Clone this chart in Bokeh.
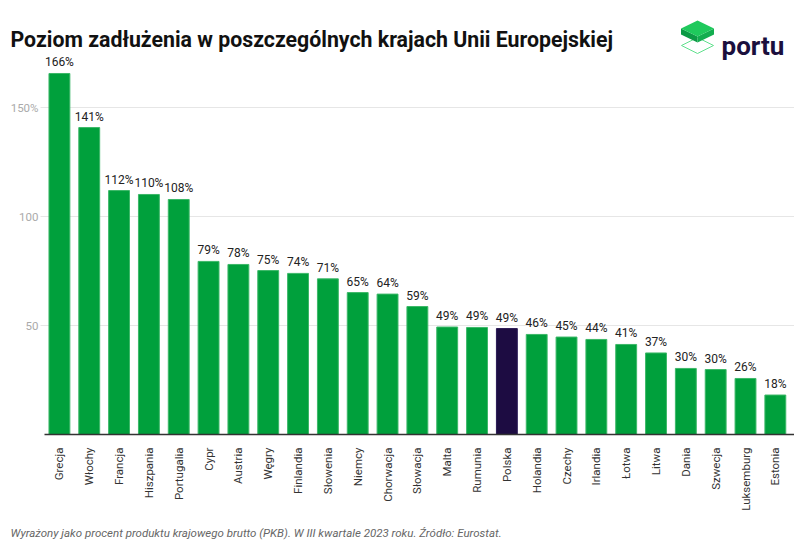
from bokeh.plotting import figure
from bokeh.models import Range1d, FixedTicker, ColumnDataSource, LabelSet, Title
from bokeh.embed import file_html
from bokeh.resources import INLINE
from bokeh.core.properties import value
import math

countries = ["Grecja", "Włochy", "Francja", "Hiszpania", "Portugalia", "Cypr", "Austria",
             "Węgry", "Finlandia", "Słowenia", "Niemcy", "Chorwacja", "Słowacja", "Malta",
             "Rumunia", "Polska", "Holandia", "Czechy", "Irlandia", "Łotwa", "Litwa",
             "Dania", "Szwecja", "Luksemburg", "Estonia"]
debt = [165.6, 140.8, 111.9, 110.1, 107.8, 79.4, 78.0, 75.2, 73.9, 71.4, 65.1, 64.4, 58.7,
        49.3, 49.1, 48.6, 45.9, 44.7, 43.6, 41.3, 37.4, 30.3, 29.8, 25.7, 18.1]
labels = [f"{int(math.floor(v + 0.5))}%" for v in debt]
highlight = "Polska"
y_ticks = [50, 100, 150]
y_tick_text = ["50", "100", "150%"]

title_text = "Poziom zadłużenia w poszczególnych krajach Unii Europejskiej"
footer_text = "Wyrażony jako procent produktu krajowego brutto (PKB). W III kwartale 2023 roku. Źródło: Eurostat."

GREEN = "#00a03c"
NAVY = "#1d0c42"
FONT = "Roboto"

W = 794
H = 550
FRAME_H = 434                # frame height: baseline of the bars
BOTTOM = H - FRAME_H         # x labels + footer
LEFT_PAD = 44                # empty room left of the first bar for the value labels
UNIT_W = 29.83               # width of one category slot
PX_PER_UNIT = 2.18           # vertical scale of the value axis

n = len(countries)
idx = list(range(n))
x_start = -0.5 - LEFT_PAD / UNIT_W
x_end = x_start + W / UNIT_W

p = figure(width=W, height=H, x_range=Range1d(x_start, x_end),
           y_range=Range1d(0, FRAME_H / PX_PER_UNIT), y_axis_location=None,
           output_backend="svg", toolbar_location=None,
           min_border_left=0, min_border_right=0, min_border_top=0, min_border_bottom=BOTTOM)
p.outline_line_color = None
p.grid.visible = False
# pixel coordinate system for decorations (title, logo, value-axis labels)
p.extra_x_ranges = {"px": Range1d(0, W)}
p.extra_y_ranges = {"py": Range1d(FRAME_H, 0)}

# horizontal grid lines at the value ticks
p.segment(x0=[LEFT_PAD - 4] * len(y_ticks), x1=[W] * len(y_ticks),
          y0=y_ticks, y1=y_ticks, x_range_name="px", line_color="#e6e6e6", line_width=1)
# value-axis labels
p.text(x=[LEFT_PAD - 6] * len(y_ticks), y=y_ticks, text=y_tick_text,
       x_range_name="px", text_align="right", text_baseline="middle",
       text_font=value(FONT), text_font_size="11.5px", text_color="#aaaaaa")

colors = [NAVY if c == highlight else GREEN for c in countries]
edge = ["#2a1a55" if c == highlight else "#3cb868" for c in countries]
src = ColumnDataSource(dict(x=idx, top=debt, color=colors, edge=edge, label=labels))
p.vbar(x="x", top="top", width=0.7, source=src, fill_color="color", line_color="edge", line_width=1)
p.add_layout(LabelSet(x="x", y="top", text="label", source=src, text_align="center",
                      text_baseline="bottom", y_offset=4, text_font=value(FONT),
                      text_font_size="12px", text_color="#222222"))

# category axis
p.xaxis.ticker = FixedTicker(ticks=idx)
p.xaxis.major_label_overrides = {i: c for i, c in zip(idx, countries)}
p.xaxis.bounds = (-0.5, x_end)
p.xaxis.axis_line_color = "#333333"
p.xaxis.axis_line_width = 1.5
p.xaxis.major_tick_line_color = None
p.xaxis.minor_tick_line_color = None
p.xaxis.major_label_orientation = math.pi / 2
p.xaxis.major_label_text_color = "#333333"
p.xaxis.major_label_text_font = FONT
p.xaxis.major_label_text_font_size = "11.5px"
p.xaxis.major_label_standoff = 7

# title (pixel coordinates)
p.text(x=[10], y=[39], text=[title_text], x_range_name="px", y_range_name="py",
       text_font=value(FONT), text_font_style="bold", text_font_size="21.3px",
       text_color="#111111", text_baseline="alphabetic")

# logo
p.patch(x=[681, 697, 713, 697], y=[45, 37, 45, 53], x_range_name="px", y_range_name="py",
        fill_color=None, line_color="#5fe08c", line_width=1)
p.patch(x=[680.5, 697, 697, 680.5], y=[28, 36, 42, 34], x_range_name="px", y_range_name="py",
        fill_color="#0c9a45", line_color=None)
p.patch(x=[697, 713.5, 713.5, 697], y=[36, 28, 34, 42], x_range_name="px", y_range_name="py",
        fill_color="#13ad4f", line_color=None)
p.patch(x=[680.5, 697, 713.5, 697], y=[28, 20, 28, 36], x_range_name="px", y_range_name="py",
        fill_color="#1fc95c", line_color=None)
p.text(x=[721], y=[45], text=["portu"], x_range_name="px", y_range_name="py",
       text_font=value(FONT), text_font_style="bold", text_font_size="26px",
       text_color="#1b0f3d", text_baseline="alphabetic")

# footer
p.add_layout(Title(text=footer_text, align="left", offset=10, standoff=20,
                   text_font=FONT, text_font_style="italic", text_font_size="11.5px",
                   text_color="#666666"), "below")

open("out.html", "w").write(file_html(p, INLINE))
